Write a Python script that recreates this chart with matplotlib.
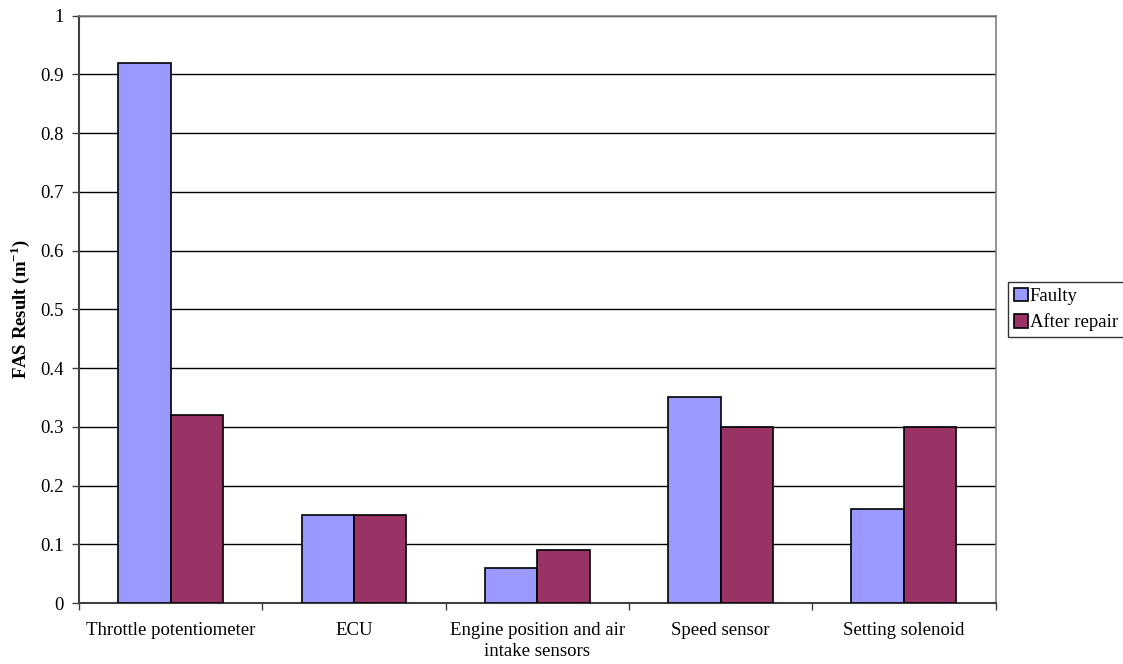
import matplotlib
matplotlib.use("Agg")
import matplotlib.pyplot as plt
import numpy as np

categories = ["Throttle potentiometer", "ECU", "Engine position and air\nintake sensors",
              "Speed sensor", "Setting solenoid"]
faulty = [0.92, 0.15, 0.06, 0.35, 0.16]
after_repair = [0.32, 0.15, 0.09, 0.30, 0.30]
series_names = ["Faulty", "After repair"]
y_ticks = [0, 0.1, 0.2, 0.3, 0.4, 0.5, 0.6, 0.7, 0.8, 0.9, 1]
y_tick_labels = ["0", "0.1", "0.2", "0.3", "0.4", "0.5", "0.6", "0.7", "0.8", "0.9", "1"]

plt.rcParams["font.family"] = ["Liberation Serif", "DejaVu Serif"]
plt.rcParams["mathtext.fontset"] = "custom"
plt.rcParams["mathtext.rm"] = "Liberation Serif"
plt.rcParams["mathtext.bf"] = "Liberation Serif:bold"

FS = 13.5

fig = plt.figure(figsize=(11.23, 6.64), dpi=100)
ax = fig.add_axes([79 / 1123, 61 / 664, (995.5 - 79) / 1123, (603 - 15.7) / 664])

x = np.arange(len(categories))
w = 1 / 3.5
b1 = ax.bar(x - w / 2, faulty, w, color="#9999FF", edgecolor="black", linewidth=1.2,
            label=series_names[0], zorder=3)
b2 = ax.bar(x + w / 2, after_repair, w, color="#993366", edgecolor="black", linewidth=1.2,
            label=series_names[1], zorder=3)

ax.set_xlim(-0.5, len(categories) - 0.5)
ax.set_ylim(0, 1)
ax.set_yticks(y_ticks)
ax.set_yticklabels(y_tick_labels, fontsize=FS)
ax.yaxis.grid(True, color="black", linewidth=1.0)
ax.set_axisbelow(True)

# category boundaries carry the tick marks; names sit at the centres
ax.set_xticks(np.arange(-0.5, len(categories), 1.0))
ax.set_xticklabels([])
ax.set_xticks(x, minor=True)
ax.set_xticklabels(categories, minor=True, fontsize=FS, linespacing=1.3)
ax.tick_params(axis="x", which="minor", length=0, pad=14)
ax.tick_params(axis="x", which="major", direction="out", length=5, width=1, color="#404040")
ax.tick_params(axis="y", direction="out", length=5, width=1, color="#404040", pad=6)

for side in ("top", "right"):
    ax.spines[side].set_color("#808080")
    ax.spines[side].set_linewidth(1.2)
for side in ("left", "bottom"):
    ax.spines[side].set_color("#404040")
    ax.spines[side].set_linewidth(1.5)

ax.set_ylabel("FAS Result (m$^{\\mathbf{-1}}$)", fontsize=FS, fontweight="bold", labelpad=6)

leg = fig.legend(handles=[b1, b2], labels=series_names, loc="center left",
                 bbox_to_anchor=(1008 / 1123, (664 - 309.5) / 664),
                 bbox_transform=fig.transFigure, fontsize=FS, frameon=True, fancybox=False,
                 handlelength=0.75, handleheight=0.75, handletextpad=0.12, borderpad=0.3,
                 labelspacing=0.45, borderaxespad=0)
leg.get_frame().set_edgecolor("black")
leg.get_frame().set_linewidth(1.0)

fig.savefig("out.png", dpi=100)
